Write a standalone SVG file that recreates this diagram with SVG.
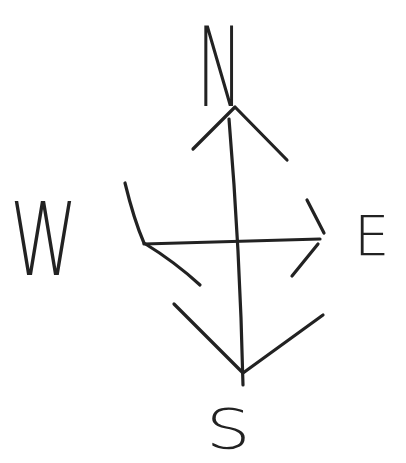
<svg xmlns="http://www.w3.org/2000/svg" width="406" height="463" viewBox="0 0 406 463">
<style>
.s{fill:none;stroke:#222;stroke-width:3.2;stroke-linecap:round;stroke-linejoin:round}
.t{font-family:"DejaVu Sans","Liberation Sans",sans-serif;font-weight:200;fill:#222}
</style>
<rect width="406" height="463" fill="#fff"/>
<g id="connectors">
<path class="s" d="M229,119 Q240,250 243,385"/>
<path class="s" d="M144,244 L320,239"/>
<path class="s" d="M193,149 L235,107 L287,160"/>
<path class="s" d="M125,183 Q134,220 144,243 Q175,262 200,285"/>
<path class="s" d="M307,200 L324,233 M318,244 L292,276"/>
<path class="s" d="M174,304 L243,373 L323,315"/>
</g>
<g id="N"><text class="t" transform="translate(197,106) scale(0.55,1)" font-size="110">N</text></g>
<g id="W"><text class="t" transform="translate(10,275) scale(0.67,1)" font-size="102">W</text></g>
<g id="E"><text class="t" transform="translate(354,255)" font-size="56">E</text></g>
<g id="S"><text class="t" transform="translate(206,448) scale(1.25,1)" font-size="56">S</text></g>
</svg>
